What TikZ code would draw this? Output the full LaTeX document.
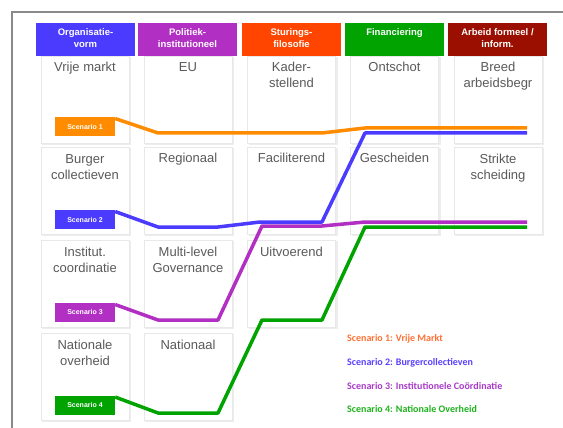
\documentclass[tikz,border=0pt]{standalone}
\usepackage{fontspec}
\setmainfont{Liberation Sans}
\newfontfamily\legendfont{Carlito}
\usetikzlibrary{calc}
\definecolor{cBlue}{HTML}{4A3BFF}
\definecolor{cPurple}{HTML}{B22FC4}
\definecolor{cRedOrange}{HTML}{FF4500}
\definecolor{cGreen}{HTML}{00A300}
\definecolor{cDarkRed}{HTML}{9A0F00}
\definecolor{cOrange}{HTML}{FF8C00}
\definecolor{cLegOrange}{HTML}{FF7033}
\definecolor{cLegBlue}{HTML}{5A40FF}
\definecolor{cLegPurple}{HTML}{A83AC8}
\definecolor{cLegGreen}{HTML}{1DB31D}
\definecolor{cText}{HTML}{5A5A5A}
\definecolor{cFrame}{HTML}{8A8A8A}
\tikzset{
  header/.style={rectangle, draw=none, minimum width=99pt, minimum height=33pt, inner sep=0pt},
  htext/.style={anchor=north, inner sep=0pt, align=center, text=white, font=\fontsize{9.5}{12}\selectfont\bfseries},
  card/.style={rectangle, fill=white, draw=black!9, line width=0.8pt, minimum width=88pt, minimum height=87pt, inner sep=0pt},
  ctext/.style={anchor=north, inner sep=0pt, align=center, text=cText, font=\fontsize{13}{16}\selectfont},
  scbox/.style={rectangle, minimum width=60pt, minimum height=19pt, inner sep=0pt, text=white, font=\fontsize{7}{8}\selectfont\bfseries},
  scline/.style={line width=3.5pt, line join=round},
  legend/.style={anchor=west, inner sep=0pt, font=\legendfont\fontsize{10}{12}\selectfont\bfseries},
}
\begin{document}
\begin{tikzpicture}[x=1pt,y=-1pt]
\useasboundingbox (0,0) rectangle (563,428);
% frame
\draw[cFrame, line width=1.4pt] (12,430) -- (12,12) -- (565,12);
% headers
\foreach \n/\cx/\col/\txt in {1/85.5/cBlue/{Organisatie-\\vorm}, 2/187.5/cPurple/{Politiek-\\institutioneel}, 3/291.5/cRedOrange/{Sturings-\\filosofie}, 4/394.5/cGreen/{Financiering}, 5/497.5/cDarkRed/{Arbeid formeel /\\inform.}}{
  \node[header, fill=\col] (h\n) at (\cx,39.5) {};
  \node[htext] (ht\n) at ($(h\n.north)+(0,5.5)$) {\txt};
}
% cards
\foreach \c/\r/\cx/\cy/\txt in {
  1/1/85/99.5/{Vrije markt}, 1/2/85/190.5/{Burger\\collectieven}, 1/3/85/283.5/{Institut.\\coordinatie}, 1/4/85/376.5/{Nationale\\overheid},
  2/1/188/99.5/{EU}, 2/2/188/190.5/{Regionaal}, 2/3/188/283.5/{Multi-level\\Governance}, 2/4/188/376.5/{Nationaal},
  3/1/291.5/99.5/{Kader-\\stellend}, 3/2/291.5/190.5/{Faciliterend}, 3/3/291.5/283.5/{Uitvoerend},
  4/1/394.5/99.5/{Ontschot}, 4/2/394.5/190.5/{Gescheiden},
  5/1/498/99.5/{Breed\\arbeidsbegr}, 5/2/498/190.5/{Strikte\\scheiding}}{
  \fill[black!7] ($(\cx,\cy)+(-43,-42.5)$) rectangle ($(\cx,\cy)+(46,45.5)$);
  \node[card] (c\c\r) at (\cx,\cy) {};
  \node[ctext] (t\c\r) at ($(c\c\r.north)+(0,5)$) {\strut\txt};
}
% scenario boxes
\node[scbox, fill=cOrange] (s1) at (85,126.5) {Scenario 1};
\node[scbox, fill=cBlue] (s2) at (85,219.5) {Scenario 2};
\node[scbox, fill=cPurple] (s3) at (85,312.5) {Scenario 3};
\node[scbox, fill=cGreen] (s4) at (85,405) {Scenario 4};
% scenario lines
\coordinate (e1) at (527,128);
\coordinate (e2) at (527,133);
\coordinate (e3) at (527,222);
\coordinate (e4) at (527,227);
\draw[scline, cOrange] ($(s1.north east)+(0,1.75)$) -- (158,133) -- (322,133) -- (365,128) -- (e1);
\draw[scline, cBlue] ($(s2.north east)+(0,1.75)$) -- (158,227) -- (218,227) -- (260,222) -- (322,222) -- (365,133) -- (e2);
\draw[scline, cPurple] ($(s3.north east)+(0,1.75)$) -- (158,320) -- (218,320) -- (262,226) -- (322,226) -- (365,222) -- (e3);
\draw[scline, cGreen] ($(s4.north east)+(0,1.75)$) -- (158,413) -- (218,413) -- (262,320) -- (322,320) -- (365,227) -- (e4);
% legend
\node[legend, text=cLegOrange] (l1) at (347,339) {Scenario 1: Vrije Markt};
\node[legend, text=cLegBlue] (l2) at (347,362.5) {Scenario 2: Burgercollectieven};
\node[legend, text=cLegPurple] (l3) at (347,386) {Scenario 3: Institutionele Coördinatie};
\node[legend, text=cLegGreen] (l4) at (347,409.5) {Scenario 4: Nationale Overheid};
\end{tikzpicture}
\end{document}
